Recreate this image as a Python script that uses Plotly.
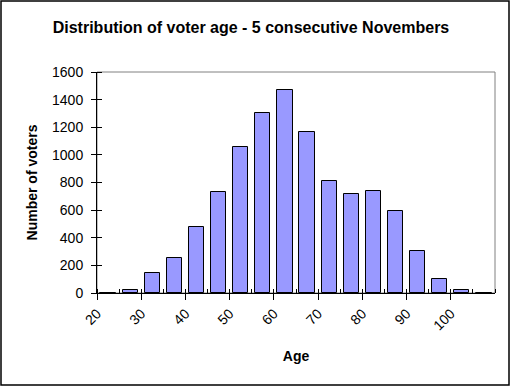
import plotly.graph_objects as go

# Data
bin_starts = [20, 25, 30, 35, 40, 45, 50, 55, 60, 65, 70, 75, 80, 85, 90, 95, 100, 105]
counts = [0, 20, 145, 253, 478, 731, 1057, 1303, 1470, 1166, 811, 717, 738, 594, 304, 101, 24, 0]
bin_width = 5
tick_labels = ["20", "30", "40", "50", "60", "70", "80", "90", "100"]
y_ticks = [0, 200, 400, 600, 800, 1000, 1200, 1400, 1600]

edges = bin_starts + [bin_starts[-1] + bin_width]
centers = [s + bin_width / 2 for s in bin_starts]
ticktext = [str(e) if str(e) in tick_labels else "" for e in edges]

FONT = "Liberation Sans, Arial, sans-serif"

fig = go.Figure()
fig.add_trace(go.Bar(
    x=centers, y=counts, width=bin_width / 1.45,
    marker=dict(color="#9999FF", line=dict(color="black", width=1)),
    hoverinfo="x+y",
))

fig.update_layout(
    width=510, height=387,
    margin=dict(l=97, r=15, t=72, b=94),
    paper_bgcolor="white", plot_bgcolor="white",
    showlegend=False,
    font=dict(family=FONT, color="black", size=13),
    title=dict(text="<b>Distribution of voter age - 5 consecutive Novembers</b>",
               x=251 / 510, xanchor="center", y=1 - 27 / 387, yanchor="middle",
               yref="container", font=dict(size=16, family=FONT, color="black")),
    xaxis=dict(range=[edges[0], edges[-1]], tickvals=edges, ticktext=ticktext,
               tickangle=-45, ticks="outside", ticklen=6, tickwidth=1, tickcolor="black",
               showline=True, linecolor="black", linewidth=1, showgrid=False, zeroline=False,
               tickfont=dict(size=14, family=FONT),
               minor=dict(tickvals=edges, ticks="inside", ticklen=4, tickcolor="black", tickwidth=1),
               title=dict(text="<b>Age</b>", font=dict(size=14, family=FONT), standoff=18)),
    yaxis=dict(range=[0, 1600], tickvals=y_ticks, ticks="outside", ticklen=5, tickwidth=1,
               tickcolor="black", showline=True, linecolor="black", linewidth=1,
               showgrid=False, zeroline=False, tickfont=dict(size=14, family=FONT),
               ticklabelstandoff=5,
               minor=dict(tickvals=y_ticks, ticks="inside", ticklen=5, tickcolor="black", tickwidth=1),
               title=dict(text="<b>Number of voters</b>", font=dict(size=14, family=FONT), standoff=11)),
    bargap=0,
)

pw, ph = 398.0, 221.0
fig.add_shape(type="rect", xref="paper", yref="paper", x0=0, x1=1, y0=0, y1=1,
              line=dict(color="#808080", width=1), layer="below")
fig.add_shape(type="rect", xref="paper", yref="paper",
              x0=(1 - 97) / pw, x1=(509 - 97) / pw,
              y0=(293 - 385) / ph, y1=(293 - 1) / ph,
              line=dict(color="black", width=1.5), layer="above")

fig.write_html("out.html", config={"displayModeBar": False},
               post_script="document.body.style.margin='0';")
